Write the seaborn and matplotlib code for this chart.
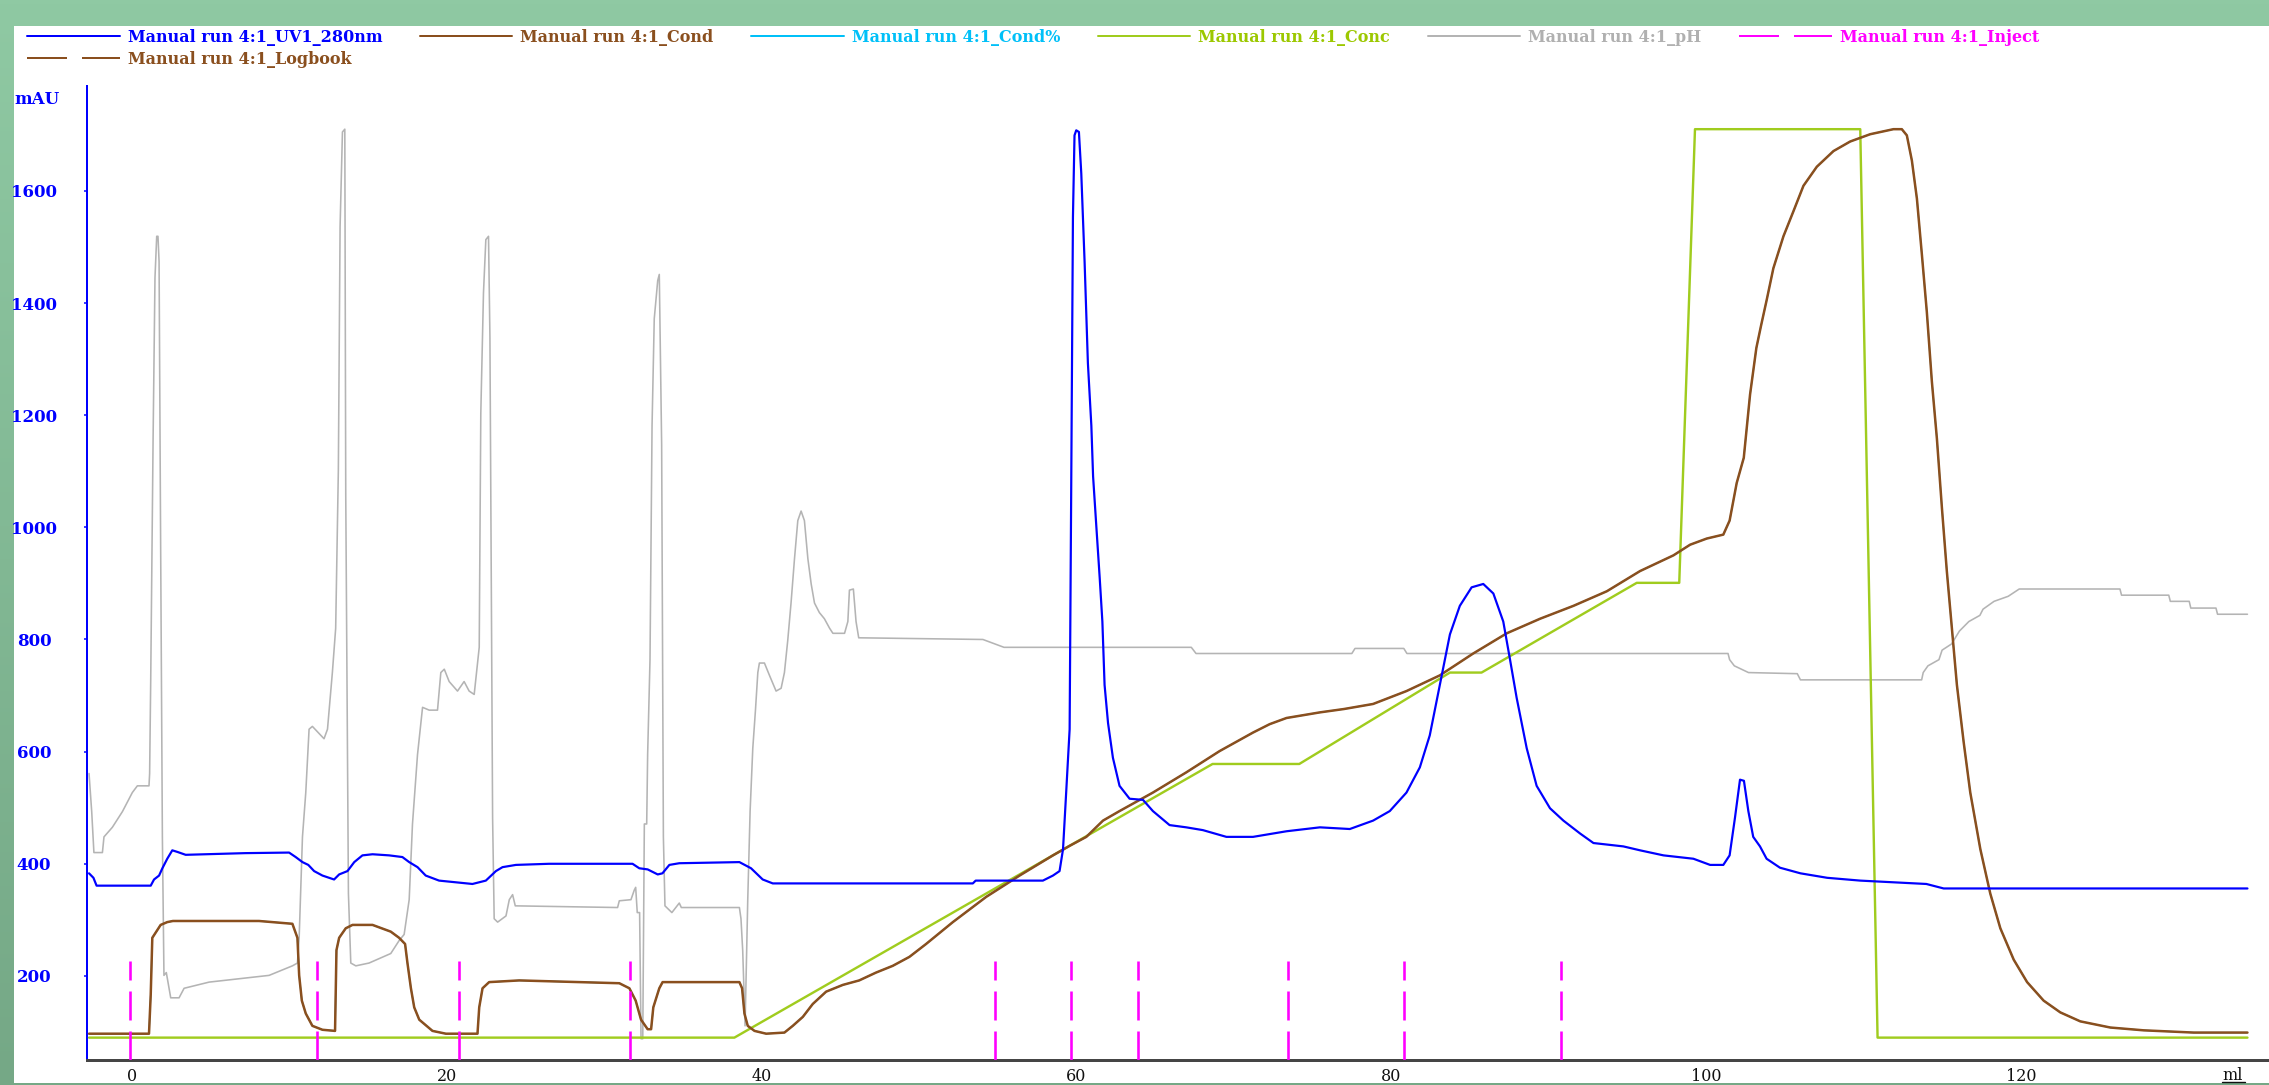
import numpy as np
import pandas as pd
import matplotlib
matplotlib.use("Agg")
import matplotlib.pyplot as plt
import seaborn as sns
from matplotlib.colors import LinearSegmentedColormap
from matplotlib.patches import Rectangle
from matplotlib.lines import Line2D

# ---------------- data (ml, mAU) ----------------
uv_ml = [-2.73, -2.45, -2.25, 1.19, 1.40, 1.72, 1.93, 2.24, 2.56, 2.9, 3.41, 7.2, 9.98, 10.40, 10.83, 11.2,
         11.57, 12.10, 12.84, 13.16, 13.69, 14.12, 14.64, 15.28, 16.34, 17.18, 17.61, 18.14, 18.66, 19.51,
         21.63, 22.48, 23.12, 23.54, 24.39, 26.5, 31.8, 32.23, 32.76, 33.40, 33.7, 34.14, 34.77, 38.59,
         39.33, 40.07, 40.71, 53.42, 53.6, 57.87, 58.51, 58.93, 59.15, 59.35, 59.57, 59.67, 59.78, 59.88,
         59.99, 60.16, 60.31, 60.52, 60.73, 60.95, 61.06, 61.27, 61.48, 61.65, 61.79, 62.01, 62.32, 62.74,
         63.38, 64.23, 64.86, 65.92, 66.98, 68.04, 69.53, 71.22, 73.35, 75.47, 77.37, 78.85, 79.91, 80.97,
         81.82, 82.45, 83.09, 83.73, 84.36, 85.11, 85.85, 86.49, 87.12, 87.55, 87.97, 88.61, 89.24, 90.09,
         90.94, 92.0, 92.85, 94.75, 95.81, 97.3, 99.2, 100.26, 101.1, 101.5, 101.84, 102.16, 102.41, 102.69,
         103.0, 103.43, 103.85, 104.7, 106.0, 107.7, 109.8, 111.9, 114.0, 115.1, 134.4]
uv_mau = [383, 375, 361, 361, 372, 379, 392, 409, 424, 421, 416, 419, 420, 412, 403, 398,
          387, 379, 372, 381, 387, 403, 415, 417, 415, 412, 403, 394, 379, 370,
          364, 370, 387, 394, 398, 400, 400, 392, 390, 381, 383, 398, 401, 403,
          392, 372, 365, 365, 370, 370, 379, 387, 426, 527, 640, 1068, 1553, 1699,
          1708, 1705, 1631, 1474, 1293, 1181, 1091, 1000, 910, 832, 719, 651, 589, 539,
          516, 514, 494, 469, 465, 460, 448, 448, 458, 465, 462, 477, 494, 527,
          572, 629, 719, 809, 860, 893, 899, 882, 832, 764, 696, 606, 539, 499,
          477, 454, 437, 431, 424, 415, 409, 398, 398, 415, 482, 550, 548, 494,
          448, 431, 409, 393, 383, 375, 370, 367, 364, 356, 356]

cond_ml = [-2.73, 1.08, 1.19, 1.29, 1.5, 1.82, 2.24, 2.6, 8.07, 10.19, 10.51, 10.62, 10.79, 11.04, 11.46,
           12.10, 12.9, 12.99, 13.16, 13.58, 14.01, 15.28, 16.44, 16.97, 17.35, 17.50, 17.72, 17.93, 18.25,
           19.09, 19.94, 21.95, 22.06, 22.27, 22.69, 24.6, 30.96, 31.6, 32.0, 32.34, 32.76, 32.98, 33.12,
           33.5, 33.71, 38.59, 38.76, 38.91, 39.12, 39.55, 40.29, 41.45, 41.98, 42.62, 43.25, 44.10, 45.16,
           46.2, 47.27, 48.33, 49.39, 50.45, 52.15, 54.27, 56.39, 58.51, 59.57, 60.63, 61.69, 62.74, 64.86,
           66.98, 69.1, 71.22, 72.28, 73.35, 75.47, 77.0, 78.85, 80.97, 83.09, 85.21, 87.34, 89.46, 91.58,
           93.7, 95.81, 97.93, 98.99, 100.05, 101.1, 101.5, 101.95, 102.4, 102.8, 103.2, 103.5, 103.86,
           104.28, 104.92, 105.56, 106.19, 107.04, 108.1, 109.16, 110.43, 111.91, 112.44, 112.76, 113.08,
           113.4, 113.72, 114.03, 114.35, 114.67, 114.99, 115.3, 115.62, 115.94, 116.37, 116.79, 117.43,
           118.06, 118.7, 119.55, 120.4, 121.45, 122.51, 123.78, 125.69, 127.81, 130.99, 134.4]
cond_mau = [97, 97, 167, 268, 277, 291, 296, 298, 298, 293, 268, 201, 156, 133, 111,
            104, 102, 246, 268, 285, 291, 291, 279, 268, 257, 223, 178, 144, 122,
            102, 97, 97, 144, 178, 189, 192, 187, 178, 156, 122, 105, 105, 144,
            178, 189, 189, 178, 133, 111, 102, 97, 99, 111, 127, 150, 172, 184,
            192, 206, 218, 234, 257, 296, 341, 379, 415, 432, 448, 477, 494, 527,
            563, 601, 634, 649, 660, 670, 676, 685, 708, 736, 775, 811, 837, 860,
            886, 922, 950, 969, 980, 987, 1012, 1079, 1124, 1237, 1320, 1360, 1406,
            1462, 1519, 1564, 1609, 1643, 1671, 1688, 1701, 1710, 1710, 1699, 1654,
            1586, 1485, 1384, 1260, 1158, 1034, 922, 820, 719, 617, 527, 426,
            347, 285, 229, 189, 156, 135, 119, 108, 103, 99, 99]

# Cond% follows the conductivity trace
condpct_ml = list(cond_ml)
condpct_mau = list(cond_mau)

conc_ml = [-2.73, 38.27, 68.65, 74.16, 83.73, 85.74, 95.6, 98.3, 99.3, 109.8, 110.9, 134.4]
conc_mau = [90, 90, 578, 578, 741, 741, 901, 901, 1710, 1710, 90, 90]

ph_ml = [-2.73, -2.56, -2.42, -1.88, -1.78, -1.25, -0.61, 0.02, 0.34, 1.08, 1.12, 1.19, 1.34, 1.46, 1.57,
         1.65, 1.72, 1.82, 1.93, 2.03, 2.18, 2.46, 2.99, 3.31, 4.90, 8.71, 10.19, 10.51, 10.62, 10.83,
         11.04, 11.25, 11.46, 12.20, 12.42, 12.73, 12.94, 13.11, 13.22, 13.37, 13.52, 13.58, 13.75, 13.90,
         14.22, 15.06, 16.44, 16.97, 17.29, 17.61, 17.82, 18.14, 18.46, 18.88, 19.41, 19.62, 19.84, 20.15,
         20.68, 21.10, 21.42, 21.74, 22.06, 22.16, 22.33, 22.48, 22.65, 22.74, 22.91, 23.01, 23.23, 23.76,
         23.97, 24.18, 24.35, 30.85, 30.96, 31.70, 31.91, 32.0, 32.1, 32.25, 32.34, 32.45, 32.55, 32.7,
         32.76, 32.91, 33.04, 33.18, 33.40, 33.5, 33.65, 33.76, 33.86, 34.3, 34.77, 34.9, 38.59, 38.69,
         38.8, 38.95, 39.12, 39.27, 39.44, 39.61, 39.76, 39.86, 40.18, 40.50, 40.92, 41.24, 41.45, 41.66,
         41.87, 42.09, 42.30, 42.51, 42.72, 42.94, 43.15, 43.36, 43.67, 43.99, 44.32, 44.53, 45.27, 45.48,
         45.58, 45.83, 46.00, 46.17, 54.06, 55.4, 67.3, 67.6, 77.5, 77.7, 80.8, 81.0, 101.4, 101.5, 101.8,
         102.7, 105.8, 106.0, 113.7, 113.8, 114.1, 114.8, 115.0, 115.6, 116.1, 116.7, 117.4, 117.6, 118.3,
         119.2, 119.9, 126.3, 126.4, 129.4, 129.5, 130.7, 130.8, 132.4, 132.5, 134.4]
ph_mau = [561, 493, 420, 420, 448, 465, 493, 527, 539, 539, 561, 730, 1158, 1445, 1519,
          1519, 1474, 967, 448, 201, 206, 161, 161, 178, 189, 201, 218, 223, 268, 448,
          527, 640, 645, 623, 640, 741, 820, 1102, 1536, 1705, 1710, 1057, 347, 223,
          218, 223, 240, 263, 274, 336, 471, 595, 679, 674, 674, 741, 747, 725,
          708, 725, 708, 702, 786, 1203, 1418, 1513, 1519, 1339, 482, 302, 296, 307,
          336, 345, 325, 322, 334, 336, 353, 358, 313, 313, 88, 88, 471, 471,
          595, 764, 1181, 1372, 1440, 1451, 1147, 448, 325, 313, 330, 322, 322, 302,
          245, 111, 336, 494, 606, 674, 741, 758, 758, 736, 708, 713, 741, 798,
          865, 944, 1012, 1029, 1012, 944, 899, 865, 848, 837, 820, 811, 811, 832,
          888, 890, 832, 803, 800, 786, 786, 775, 775, 784, 784, 775, 775, 764, 753,
          741, 739, 728, 728, 741, 753, 764, 781, 792, 815, 832, 843, 854, 868,
          877, 890, 890, 879, 879, 868, 868, 856, 856, 845, 845]

inject_ml = [-0.1, 11.78, 20.75, 31.66, 54.86, 59.67, 63.93, 73.44, 80.82, 90.76]
inject_top = 226

y_ticks = [200, 400, 600, 800, 1000, 1200, 1400, 1600]
x_ticks = [0, 20, 40, 60, 80, 100, 120]

labels = {
    "uv": "Manual run 4:1_UV1_280nm",
    "cond": "Manual run 4:1_Cond",
    "condpct": "Manual run 4:1_Cond%",
    "conc": "Manual run 4:1_Conc",
    "ph": "Manual run 4:1_pH",
    "inject": "Manual run 4:1_Inject",
    "logbook": "Manual run 4:1_Logbook",
}

# ---------------- styling ----------------
sns.set_theme(style="white")
plt.rcParams["font.family"] = ["DejaVu Serif"]
plt.rcParams["lines.scale_dashes"] = False

C_UV = "#0000ff"
C_COND = "#8a4f1e"
C_CPCT = "#00c0f8"
C_CONC = "#a0cc1e"
C_PH = "#b4b4b4"
C_INJ = "#ff00ff"

W, H = 2269, 1085
fig = plt.figure(figsize=(W / 100, H / 100), dpi=100)

# green frame background with slight vertical gradient
bg = fig.add_axes([0, 0, 1, 1], zorder=-10)
cmap = LinearSegmentedColormap.from_list("g", ["#75a886", "#8fc9a3"])
bg.imshow(np.linspace(0, 1, 256).reshape(-1, 1), aspect="auto", cmap=cmap,
          extent=[0, 1, 0, 1], origin="lower")
bg.set_axis_off()
fig.patches.append(Rectangle((14 / W, 2 / H), 1, (1083 - 26) / H, transform=fig.transFigure,
                             facecolor="white", edgecolor="none", zorder=-5))

ax = fig.add_axes([87 / W, 25 / H, (W - 87) / W, (1060 - 86) / H])
ax.set_facecolor("none")

px = 0.72  # points per full-size pixel

sns.lineplot(x=ph_ml, y=ph_mau, ax=ax, color=C_PH, linewidth=1.6 * px, estimator=None, sort=False,
             legend=False, zorder=2)
sns.lineplot(x=conc_ml, y=conc_mau, ax=ax, color=C_CONC, linewidth=2.4 * px, estimator=None, sort=False,
             legend=False, zorder=3)
sns.lineplot(x=condpct_ml, y=condpct_mau, ax=ax, color=C_CPCT, linewidth=1.4 * px, estimator=None,
             sort=False, legend=False, zorder=4)
sns.lineplot(x=cond_ml, y=cond_mau, ax=ax, color=C_COND, linewidth=2.5 * px, estimator=None, sort=False,
             legend=False, zorder=5)
sns.lineplot(x=uv_ml, y=uv_mau, ax=ax, color=C_UV, linewidth=2.2 * px, estimator=None, sort=False,
             legend=False, zorder=6)

ymin, ymax = 50.1, 1787
ax.vlines(inject_ml, ymin, inject_top, colors=C_INJ, linewidth=2.6 * px,
          linestyles=[(0, (29 * px, 11 * px))], zorder=7)

ax.set_xlim((87 - 132) / 15.74, (W - 132) / 15.74)
ax.set_ylim(ymin, ymax)

for s in ["top", "right"]:
    ax.spines[s].set_visible(False)
ax.spines["left"].set_color(C_UV)
ax.spines["left"].set_linewidth(2 * px)
ax.spines["bottom"].set_color("#454545")
ax.spines["bottom"].set_linewidth(3 * px)

ax.set_yticks(y_ticks)
ax.set_yticklabels([str(v) for v in y_ticks])
ax.set_xticks(x_ticks)
ax.set_xticklabels([str(v) for v in x_ticks])
ax.tick_params(axis="y", colors=C_UV, length=3 * px, width=1.5 * px, pad=36, labelsize=12,
               direction="out", left=True)
for t in ax.get_yticklabels():
    t.set_horizontalalignment("center")
    t.set_fontweight("bold")
ax.tick_params(axis="x", colors="#111111", length=0, pad=6, labelsize=11.5, bottom=True)
ax.set_xlabel("")
ax.set_ylabel("")
ax.grid(False)

fig.text(37 / W, 1 - 99 / H, "mAU", color=C_UV, fontsize=12, fontweight="bold",
         ha="center", va="center")
fig.text(2233 / W, 1 - 1075 / H, "ml", color="#111111", fontsize=11.5, ha="center", va="center")
fig.add_artist(Line2D([2222 / W, 2245 / W], [1 - 1082 / H] * 2, transform=fig.transFigure,
                      color="#111111", linewidth=1))

# legend (legend-only handles for Inject / Logbook styles)
hnd = {
    "uv": Line2D([], [], color=C_UV, linewidth=2 * px),
    "cond": Line2D([], [], color=C_COND, linewidth=2 * px),
    "condpct": Line2D([], [], color=C_CPCT, linewidth=2 * px),
    "conc": Line2D([], [], color=C_CONC, linewidth=2 * px),
    "ph": Line2D([], [], color=C_PH, linewidth=2 * px),
    "inject": Line2D([], [], color=C_INJ, linewidth=2 * px, linestyle=(0, (40 * px, 15 * px))),
    "logbook": Line2D([], [], color=C_COND, linewidth=2 * px, linestyle=(0, (40 * px, 15 * px))),
}
text_cols = {"uv": C_UV, "cond": C_COND, "condpct": C_CPCT, "conc": "#9cc800",
             "ph": "#b0b0b0", "inject": C_INJ, "logbook": C_COND}
order = ["uv", "logbook", "cond", "condpct", "conc", "ph", "inject"]
leg = fig.legend([hnd[k] for k in order], [labels[k] for k in order], ncol=6,
                 loc="upper left", bbox_to_anchor=(27 / W, 1 - 29 / H), frameon=False,
                 prop={"family": "DejaVu Serif", "weight": "bold", "size": 11.5},
                 handlelength=5.8, handletextpad=0.5, columnspacing=2.35, labelspacing=0.3,
                 borderpad=0, borderaxespad=0)
for k, t in zip(order, leg.get_texts()):
    t.set_color(text_cols[k])

fig.savefig("out.png", dpi=100, facecolor=fig.get_facecolor())
